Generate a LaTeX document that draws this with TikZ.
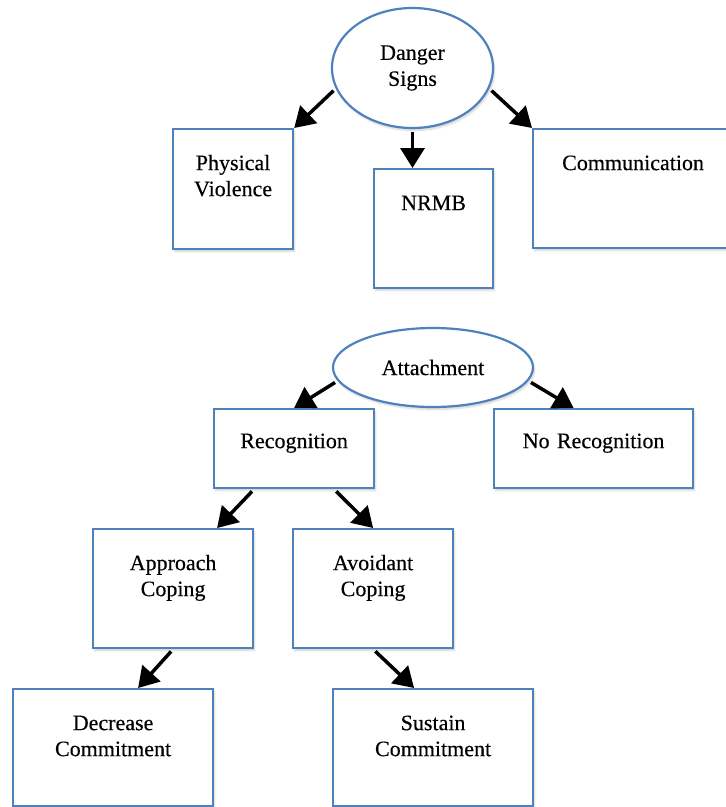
\documentclass[tikz,border=0pt]{standalone}
\usepackage{fontspec}
\setmainfont{Liberation Serif}
\newfontfamily\lblfont{Liberation Serif}[FakeBold=0.3]
\usetikzlibrary{arrows.meta, shapes.geometric, shadows.blur}
\definecolor{boxblue}{RGB}{79,129,189}

\begin{document}
\begin{tikzpicture}[x=1pt, y=-1pt, font=\lblfont\fontsize{22}{26}\selectfont,
    soft/.style={blur shadow={shadow blur steps=8, shadow xshift=1.5pt, shadow yshift=-2.5pt, shadow opacity=18}},
    box/.style 2 args={draw=boxblue, line width=2.2pt, fill=white, inner sep=0pt, align=center,
      anchor=north west, text width=#1, text height=41pt, text depth=#2, soft},
    oval/.style={ellipse, draw=boxblue, line width=2.2pt, fill=white, inner sep=0pt, align=center, soft},
    link/.style={line width=3.5pt, shorten <=3pt, -{Triangle[length=20pt,width=24pt]}}]
  \useasboundingbox (0,0) rectangle (726,807);

  % Danger signs
  \node[oval, minimum width=161pt, minimum height=120pt] (ds) at (412.5,68) {Danger\\Signs};
  \node[box={120pt}{79pt}] (pv) at (172,128) {Physical\\Violence};
  \node[box={119pt}{78pt}] (nr) at (373,168) {NRMB};
  \node[box={200pt}{78pt}] (cm) at (532,128) {Communication};

  \draw[link] (ds.195) -- (pv.north east);
  \draw[link] (ds.south) -- (ds.south |- nr.north);
  \draw[link] (ds.-15) -- (cm.north west);

  % Attachment
  \node[oval, minimum width=200pt, minimum height=79pt] (at) at (433,367.5) {Attachment};
  \node[box={160pt}{40pt}, text height=39pt] (rc) at (213,408) {Recognition};
  \node[box={199pt}{40pt}, text height=39pt] (nrc) at (493,408) {No Recognition};
  \node[box={160pt}{78pt}] (ap) at (92,528) {Approach\\Coping};
  \node[box={160pt}{78pt}] (av) at (292,528) {Avoidant\\Coping};
  \node[box={200pt}{76pt}] (dc) at (12,688) {Decrease\\Commitment};
  \node[box={200pt}{76pt}] (sc) at (332,688) {Sustain\\Commitment};

  \draw[link] (at.188) -- (rc.north);
  \draw[link] (at.-8) -- ([xshift=-20pt]nrc.north);
  \draw[link] ([xshift=-40pt]rc.south) -- ([xshift=44pt]ap.north);
  \draw[link] ([xshift=40pt]rc.south) -- (av.north);
  \draw[link] (ap.south) -- ([xshift=25pt]dc.north);
  \draw[link] (av.south) -- ([xshift=-19pt]sc.north);
\end{tikzpicture}
\end{document}
